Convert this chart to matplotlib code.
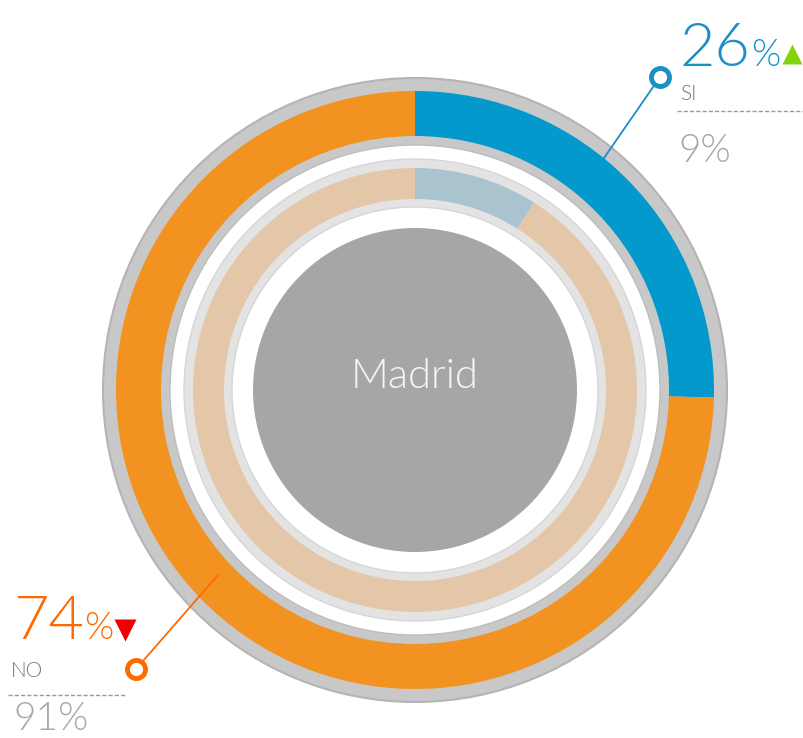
import matplotlib.pyplot as plt
from matplotlib.patches import Circle

labels = ["SI", "NO"]
outer_vals = [25.4, 74.6]          # ring slices as drawn
inner_vals = [9, 91]
outer_text = ["26", "74"]          # shown percentages
inner_text = ["9%", "91%"]
outer_colors = ["#0399cc", "#f29220"]
inner_colors = ["#a9c3cf", "#e4c7a9"]
city = "Madrid"

W, H = 804, 738
fig = plt.figure(figsize=(W / 100, H / 100), dpi=100)
ax = fig.add_axes([0, 0, 1, 1])

cx, cy = 415, H - 390
font = ["Lato", "DejaVu Sans"]
LIGHT = 300

# outer grey frame
ax.add_patch(Circle((cx, cy), 312, fc="#c8c8c8", ec="#b4b4b4", lw=1.5))
ax.add_patch(Circle((cx, cy), 245, fc="white", ec="#bdbdbd", lw=1))
ax.pie(outer_vals, colors=outer_colors, radius=299, center=(cx, cy),
       startangle=90, counterclock=False, frame=True,
       wedgeprops=dict(width=45, linewidth=0))

# inner light frame
ax.add_patch(Circle((cx, cy), 231, fc="#e3e3e3", ec="#d6d6d6", lw=1))
ax.add_patch(Circle((cx, cy), 183, fc="white", ec="#d6d6d6", lw=1))
ax.pie(inner_vals, colors=inner_colors, radius=222, center=(cx, cy),
       startangle=90, counterclock=False, frame=True,
       wedgeprops=dict(width=31, linewidth=0))

ax.add_patch(Circle((cx, cy), 162, fc="#a6a6a6", ec="none"))
ax.text(cx, H - 377, city, ha="center", va="center", color="#f6f6f6",
        fontsize=30, family=font, fontweight=LIGHT)

ax.set_xlim(0, W)
ax.set_ylim(0, H)
ax.set_aspect("equal")
ax.axis("off")
renderer = fig.canvas.get_renderer()


def big_pct(x, y, num, color):
    t = ax.text(x, y, num, color=color, fontsize=44, family=font,
                fontweight=LIGHT, va="baseline")
    bb = t.get_window_extent(renderer)
    x2 = ax.transData.inverted().transform((bb.x1, bb.y0))[0]
    ax.text(x2, y, "%", color=color, fontsize=27, family=font,
            fontweight=LIGHT, va="baseline")


# SI label (top right)
ax.plot([660, 604], [H - 77, H - 158], color="#1a8fc6", lw=1.3)
ax.plot(660, H - 77, "o", ms=13, mfc="white", mec="#1a8fc6", mew=3.5)
big_pct(680, H - 66, outer_text[0], "#1a8fc6")
ax.plot(792, H - 54, marker="^", ms=15, color="#84d40a", mec="none")
ax.text(680, H - 100, labels[0], color="#777777", fontsize=15, family=font,
        fontweight=LIGHT)
ax.plot([677, 804], [H - 111, H - 111], color="#999999", lw=1, ls=(0, (3, 1.5)))
ax.text(679, H - 162, inner_text[0], color="#a8a8a8", fontsize=28, family=font,
        fontweight=LIGHT)

# NO label (bottom left)
ax.plot([136, 218], [H - 669, H - 575], color="#ff6a00", lw=1.3)
ax.plot(136, H - 669, "o", ms=13, mfc="white", mec="#ff6a00", mew=3.5)
big_pct(13, H - 639, outer_text[1], "#ff6a00")
ax.plot(125, H - 630, marker="v", ms=16, color="#ee0000", mec="none")
ax.text(11, H - 677, labels[1], color="#777777", fontsize=15, family=font,
        fontweight=LIGHT)
ax.plot([8, 125], [H - 695, H - 695], color="#999999", lw=1, ls=(0, (3, 1.5)))
ax.text(14, 1, inner_text[1], color="#a8a8a8", fontsize=28, family=font,
        fontweight=LIGHT, va="bottom")

fig.savefig("out.png", dpi=100)
